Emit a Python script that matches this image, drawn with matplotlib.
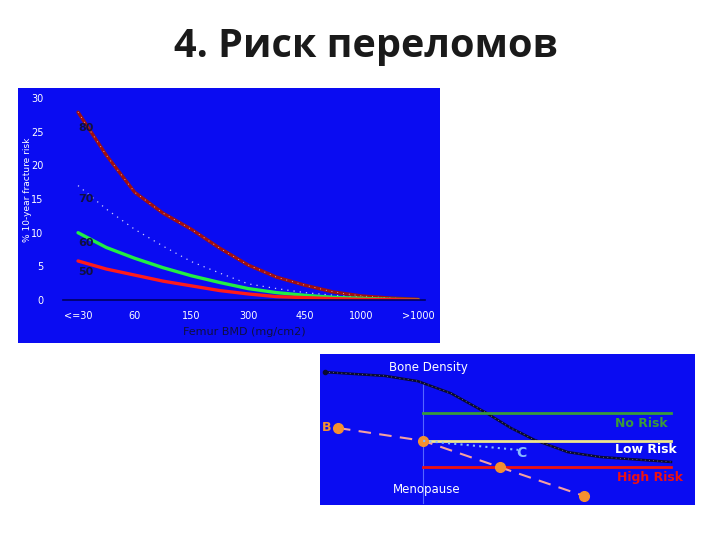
import matplotlib
matplotlib.use("Agg")
import matplotlib.pyplot as plt

# ---------------- data: top chart ----------------
x_pos = [0, 0.5, 1, 1.5, 2, 2.5, 3, 3.5, 4, 4.5, 5, 5.5, 6]
x_ticklabels = ["<=30", "60", "150", "300", "450", "1000", ">1000"]
y_ticks = [0, 5, 10, 15, 20, 25, 30]
curve_darkred = [27.9, 21.5, 16.0, 12.9, 10.5, 7.7, 5.2, 3.4, 2.2, 1.2, 0.6, 0.3, 0.1]
curve_dotted = [17.0, 13.5, 10.5, 8.0, 5.7, 4.0, 2.4, 1.7, 1.1, 0.7, 0.4, 0.2, 0.1]
curve_green = [10.0, 7.8, 6.2, 4.8, 3.6, 2.6, 1.7, 1.1, 0.7, 0.4, 0.25, 0.1, 0.05]
curve_red = [5.8, 4.6, 3.7, 2.8, 2.1, 1.4, 0.9, 0.5, 0.35, 0.2, 0.1, 0.05, 0.0]
curve_labels = ["80", "70", "60", "50"]
label_values = [25.5, 15.0, 8.5, 4.2]

# ---------------- data: bottom schematic ----------------
bd_x = [1.3, 17.3, 26.1, 34.9, 44.0, 50.9, 57.3, 66.1, 74.9, 93.6]
bd_y = [35.2, 34.2, 32.8, 29.6, 24.6, 20.4, 17.2, 14.0, 12.7, 11.4]
menopause_x = 27.5
threshold_names = ["No Risk", "Low Risk", "High Risk"]
threshold_y = [24.4, 17.0, 10.0]
threshold_colors = ["#3a9a3a", "#f0e68c", "#ee1111"]
threshold_text_colors = ["#3a9a3a", "#ffffff", "#ee1111"]
b_x = [4.8, 27.5, 48.0, 70.4]
b_y = [20.4, 17.0, 10.0, 2.4]
c_x = [27.5, 52.8]
c_y = [17.0, 14.6]

W, H = 720, 540
fig = plt.figure(figsize=(7.2, 5.4), dpi=100)
fig.patch.set_facecolor("white")

def rect(l, t, r, b):
    return [l / W, 1 - b / H, (r - l) / W, (b - t) / H]

BLUE = "#0a0cf2"

# title
fig.text(366 / W, 1 - 46 / H, "4. Риск переломов", ha="center", va="center",
         fontsize=28.5, fontweight="bold", color="#1a1a1a", family=["Open Sans", "DejaVu Sans"])

# ---- top panel background ----
bg1 = fig.add_axes(rect(18, 88, 440, 343))
bg1.set_facecolor(BLUE)
bg1.set_xticks([]); bg1.set_yticks([])
for s in bg1.spines.values():
    s.set_visible(False)

ax = fig.add_axes(rect(63, 92, 425, 300))
ax.patch.set_alpha(0)
ax.set_xlim(-0.265, 6.12)
ax.set_ylim(0, 30.9)
for s in ["top", "right", "left"]:
    ax.spines[s].set_visible(False)
ax.spines["bottom"].set_color("#000060")
ax.spines["bottom"].set_linewidth(1.2)
ax.set_xticks(range(len(x_ticklabels)))
ax.set_xticklabels(x_ticklabels, color="white", fontsize=7)
ax.set_yticks(y_ticks)
ax.set_yticklabels([str(v) for v in y_ticks], color="white", fontsize=7)
ax.tick_params(length=0, pad=8)
ax.tick_params(axis="y", pad=14)

ax.plot(x_pos, curve_darkred, color="#a01010", lw=2.4, solid_capstyle="round")
ax.plot(x_pos, curve_darkred, color="white", lw=0.6, ls=(0, (1, 6)), alpha=0.8)
ax.plot(x_pos, curve_dotted, color="white", lw=0.9, ls=(0, (1, 4)), alpha=0.8)
ax.plot(x_pos, curve_green, color="#22ee44", lw=2.4, solid_capstyle="round")
ax.plot(x_pos, curve_red, color="#ff1a1a", lw=2.4, solid_capstyle="round")
for lab, v in zip(curve_labels, label_values):
    ax.text(0.0, v, lab, color="#101040", fontsize=8, fontweight="bold", ha="left", va="center")

ax.set_xlabel("Femur BMD (mg/cm2)", color="#101040", fontsize=8, labelpad=4)
fig.text(28 / W, 1 - 190 / H, "% 10-year fracture risk", rotation=90, color="white",
         fontsize=6.5, ha="center", va="center")

# ---- bottom panel ----
ax2 = fig.add_axes(rect(320, 354, 695, 505))
ax2.set_facecolor(BLUE)
ax2.set_xlim(0, 100)
ax2.set_ylim(0, 40)
ax2.set_xticks([]); ax2.set_yticks([])
for s in ax2.spines.values():
    s.set_visible(False)

ax2.plot([menopause_x, menopause_x], [0.5, 32.6], color="#5566ff", lw=0.8)
ax2.plot(bd_x, bd_y, color="#0a0a30", lw=1.8)
ax2.plot(bd_x, bd_y, color="white", lw=0.5, ls=(0, (1, 5)), alpha=0.7)
ax2.plot([bd_x[0]], [bd_y[0]], "o", color="#0a0a30", ms=3)
for yv, col in zip(threshold_y, threshold_colors):
    ax2.plot([menopause_x, 93.6], [yv, yv], color=col, lw=2.0)
ax2.plot(b_x, b_y, color="#f4a0a0", lw=1.5, ls=(0, (6, 4)))
ax2.plot(b_x, b_y, "o", color="#f59030", ms=7, ls="none")
ax2.plot(c_x, c_y, color="#88bbff", lw=1.5, ls=(0, (1, 2)))
ax2.text(1.8, 20.4, "B", color="#f59030", fontsize=9, fontweight="bold", ha="center", va="center")
ax2.text(53.8, 13.8, "C", color="#88bbff", fontsize=10, fontweight="bold", ha="center", va="center")
label_pos_x = [85.6, 87.0, 88.0]
label_pos_y = [21.7, 14.6, 7.4]
for name, lx, ly, col in zip(threshold_names, label_pos_x, label_pos_y, threshold_text_colors):
    ax2.text(lx, ly, name, color=col, fontsize=9, fontweight="bold", ha="center", va="center")
ax2.text(28.8, 36.3, "Bone Density", color="white", fontsize=8.5, ha="center", va="center")
ax2.text(28.5, 4.0, "Menopause", color="white", fontsize=8.5, ha="center", va="center")

fig.savefig("out.png", dpi=100, facecolor="white")
